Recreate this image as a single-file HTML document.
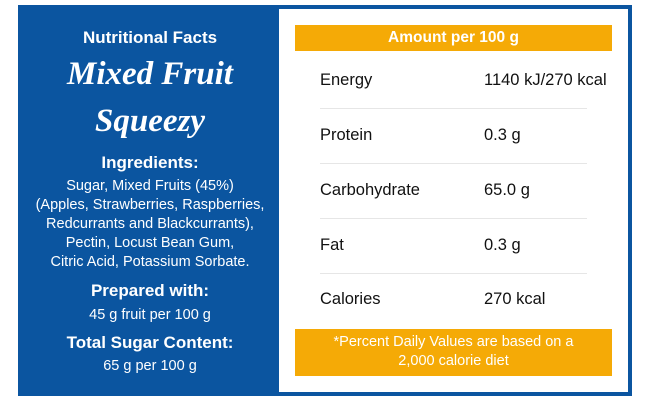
<!DOCTYPE html>
<html><head><style>
body{margin:0;width:650px;height:401px;background:#fff;position:relative;font-family:"Liberation Sans",sans-serif;overflow:hidden}
.a{position:absolute}
.blue{left:18px;top:5px;width:614px;height:391px;background:#0b55a0}
.white{left:279px;top:9px;width:349px;height:383px;background:#fff}
.c{position:absolute;left:18px;width:264px;text-align:center;color:#fff;white-space:nowrap}
.b{font-weight:bold;font-size:17px}
.t{font-size:14.5px}
.s{font-family:"Liberation Serif",serif;font-style:italic;font-weight:bold;font-size:33px}
.or{position:absolute;left:295px;width:317px;background:#f5aa06;color:#fff;text-align:center}
.l{position:absolute;left:320px;font-size:16.5px;color:#111}
.v{position:absolute;left:484px;font-size:16.5px;color:#111}
.hr{position:absolute;left:320px;width:267px;height:1px;background:#e6e6e6}
</style></head><body>
<div class="a blue"></div>
<div class="a white"></div>
<div class="c b" style="top:28px">Nutritional Facts</div>
<div class="c s" style="top:56px">Mixed Fruit</div>
<div class="c s" style="top:103px">Squeezy</div>
<div class="c b" style="top:153px">Ingredients:</div>
<div class="c t" style="top:177px;line-height:19px">Sugar, Mixed Fruits (45%)<br>(Apples, Strawberries, Raspberries,<br>Redcurrants and Blackcurrants),<br>Pectin, Locust Bean Gum,<br>Citric Acid, Potassium Sorbate.</div>
<div class="c b" style="top:281px">Prepared with:</div>
<div class="c t" style="top:307px">45 g fruit per 100 g</div>
<div class="c b" style="top:333px">Total Sugar Content:</div>
<div class="c t" style="top:358px">65 g per 100 g</div>
<div class="or" style="top:25px;height:26px;line-height:26px;font-weight:bold;font-size:15.5px">Amount per 100 g</div>
<div class="l" style="top:71px">Energy</div><div class="v" style="top:71px">1140 kJ/270 kcal</div>
<div class="hr" style="top:108px"></div>
<div class="l" style="top:126px">Protein</div><div class="v" style="top:126px">0.3 g</div>
<div class="hr" style="top:163px"></div>
<div class="l" style="top:181px">Carbohydrate</div><div class="v" style="top:181px">65.0 g</div>
<div class="hr" style="top:218px"></div>
<div class="l" style="top:236px">Fat</div><div class="v" style="top:236px">0.3 g</div>
<div class="hr" style="top:273px"></div>
<div class="l" style="top:290px">Calories</div><div class="v" style="top:290px">270 kcal</div>
<div class="or" style="top:329px;height:47px;font-size:14.5px;line-height:19px;padding-top:4px;box-sizing:border-box">*Percent Daily Values are based on a<br>2,000 calorie diet</div>
</body></html>
